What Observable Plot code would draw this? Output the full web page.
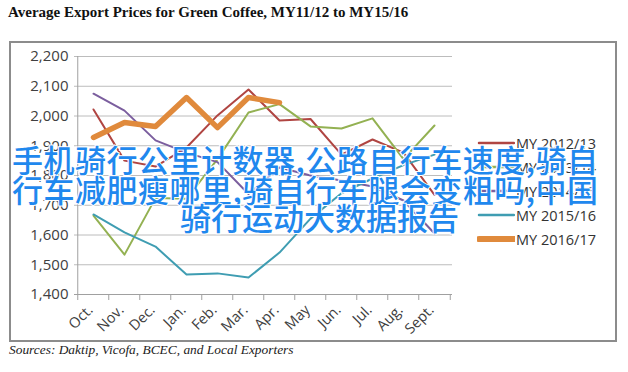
<!DOCTYPE html>
<html>
<head>
<meta charset="utf-8">
<script src="https://cdn.jsdelivr.net/npm/d3@7"></script>
<script src="https://cdn.jsdelivr.net/npm/@observablehq/plot@0.6"></script>
<style>
  html, body { margin: 0; padding: 0; background: #fff; }
  #wrap { position: relative; width: 628px; height: 372px; overflow: hidden; }
  #title { position: absolute; left: 8px; top: 4px; font-family: "Liberation Serif", serif; font-weight: bold; font-size: 15px; color: #111; white-space: nowrap; }
  #box { position: absolute; left: 9px; top: 41px; width: 604px; height: 297px; border: 2px solid #8c8c8c; }
  #chart { position: absolute; left: 0; top: 0; }
  #legend { position: absolute; left: 477px; top: 131px; font-family: "Open Sans", sans-serif; font-size: 14.5px; color: #333; }
  .row { display: flex; align-items: center; height: 24px; }
  .row svg { margin-right: 1px; }
  #source { position: absolute; left: 9px; top: 342px; font-family: "Liberation Serif", serif; font-style: italic; font-size: 13.4px; color: #222; white-space: nowrap; }
  .ov { position: absolute; font-family: "Noto Sans CJK SC", sans-serif; font-weight: 500; font-size: 31px; line-height: 31px; color: #1f88ee; white-space: nowrap; letter-spacing: 0.5px; -webkit-text-stroke: 2px #ffffff; paint-order: stroke fill; }
</style>
</head>
<body>
<div id="wrap">
  <div id="title"></div>
  <div id="box"></div>
  <div id="chart"></div>
  <div id="legend"></div>
  <div id="source"></div>
  <div id="ov1" class="ov" style="left:12px; top:143px;"></div>
  <div id="ov2" class="ov" style="left:12px; top:173px;"></div>
  <div id="ov3" class="ov" style="left:180px; top:201px; letter-spacing:0;"></div>
</div>
<script>
const titleText = "Average Export Prices for Green Coffee, MY11/12 to MY15/16";
const sourceText = "Sources: Daktip, Vicofa, BCEC, and Local Exporters";
const overlayLines = ["手机骑行公里计数器,公路自行车速度,骑自", "行车减肥瘦哪里,骑自行车腿会变粗吗,中国", "骑行运动大数据报告"];

const months = ["Oct.", "Nov.", "Dec.", "Jan.", "Feb.", "Mar.", "Apr.", "May", "Jun.", "Jul.", "Aug.", "Sept."];
const seriesNames = ["MY 2012/13", "MY 2013/14", "MY 2014/15", "MY 2015/16", "MY 2016/17"];
const my1213 = [2022, 1850, 1830, 1894, 2002, 2089, 1985, 1990, 1870, 1921, 1877, 1735];
const my1314 = [1665, 1534, 1724, 1722, 1855, 2012, 2040, 1965, 1958, 1992, 1855, 1968];
const my1415 = [2075, 2018, 1918, 1877, 1845, 1738, 1827, 1800, 1783, 1763, 1716, 1605];
const my1516 = [1669, 1609, 1561, 1467, 1471, 1457, 1541, 1655, 1740, 1790, 1835, 1870];
const my1617 = [1928, 1978, 1965, 2062, 1961, 2062, 2045];
const seriesValues = [my1213, my1314, my1415, my1516, my1617];
const seriesColors = ["#b04542", "#93b152", "#7b5e9e", "#3f9db2", "#e08a3c"];
const seriesWidths = [2, 2, 2, 2, 5.5];
const yTicks = [1400, 1500, 1600, 1700, 1800, 1900, 2000, 2100, 2200];

document.getElementById("title").textContent = titleText;
document.getElementById("source").textContent = sourceText;
["ov1", "ov2", "ov3"].forEach((id, i) => document.getElementById(id).textContent = overlayLines[i]);

const rows = seriesNames.flatMap((s, i) => seriesValues[i].map((v, j) => ({series: s, month: months[j], value: v})));

const half = 378 / 12 / 2;
const chart = Plot.plot({
  width: 628,
  height: 372,
  marginLeft: 74,
  marginRight: 176,
  marginTop: 56,
  marginBottom: 78,
  style: {fontFamily: "Open Sans, sans-serif", fontSize: "14px", color: "#404040", background: "transparent"},
  x: {type: "point", domain: months, padding: 0.5, label: null},
  y: {domain: [1400, 2200], label: null},
  marks: [
    Plot.ruleY(yTicks, {stroke: "#bcbcbc", strokeWidth: 1}),
    Plot.ruleX([months[0]], {dx: -half, y1: 1400, y2: 2200, stroke: "#a0a0a0"}),
    Plot.ruleX(months, {dx: -half, y1: 1400, y2: 1400, insetBottom: -6, stroke: "#a0a0a0"}),
    Plot.ruleX([months[months.length - 1]], {dx: half, y1: 1400, y2: 1400, insetBottom: -6, stroke: "#a0a0a0"}),
    Plot.ruleY([1400], {stroke: "#a0a0a0"}),
    Plot.axisY(yTicks, {tickSize: 0, tickPadding: 6, tickFormat: d3.format(","), fontSize: 15, label: null}),
    Plot.axisX({tickSize: 0, tickPadding: 13, tickRotate: -45, dx: -3, fontSize: 14.5, label: null}),
    ...seriesNames.map((s, i) => Plot.line(rows.filter(d => d.series === s), {
      x: "month", y: "value", stroke: seriesColors[i], strokeWidth: seriesWidths[i], strokeLinejoin: "round", strokeLinecap: "round"
    }))
  ]
});
document.getElementById("chart").appendChild(chart);

const legend = document.getElementById("legend");
seriesNames.forEach((s, i) => {
  const row = document.createElement("div");
  row.className = "row";
  row.innerHTML = `<svg width="38" height="10"><line x1="2" y1="5" x2="37" y2="5" stroke="${seriesColors[i]}" stroke-width="${seriesWidths[i] + 0.5}" stroke-linecap="round"/></svg><span>${s}</span>`;
  legend.appendChild(row);
});
</script>
</body>
</html>
